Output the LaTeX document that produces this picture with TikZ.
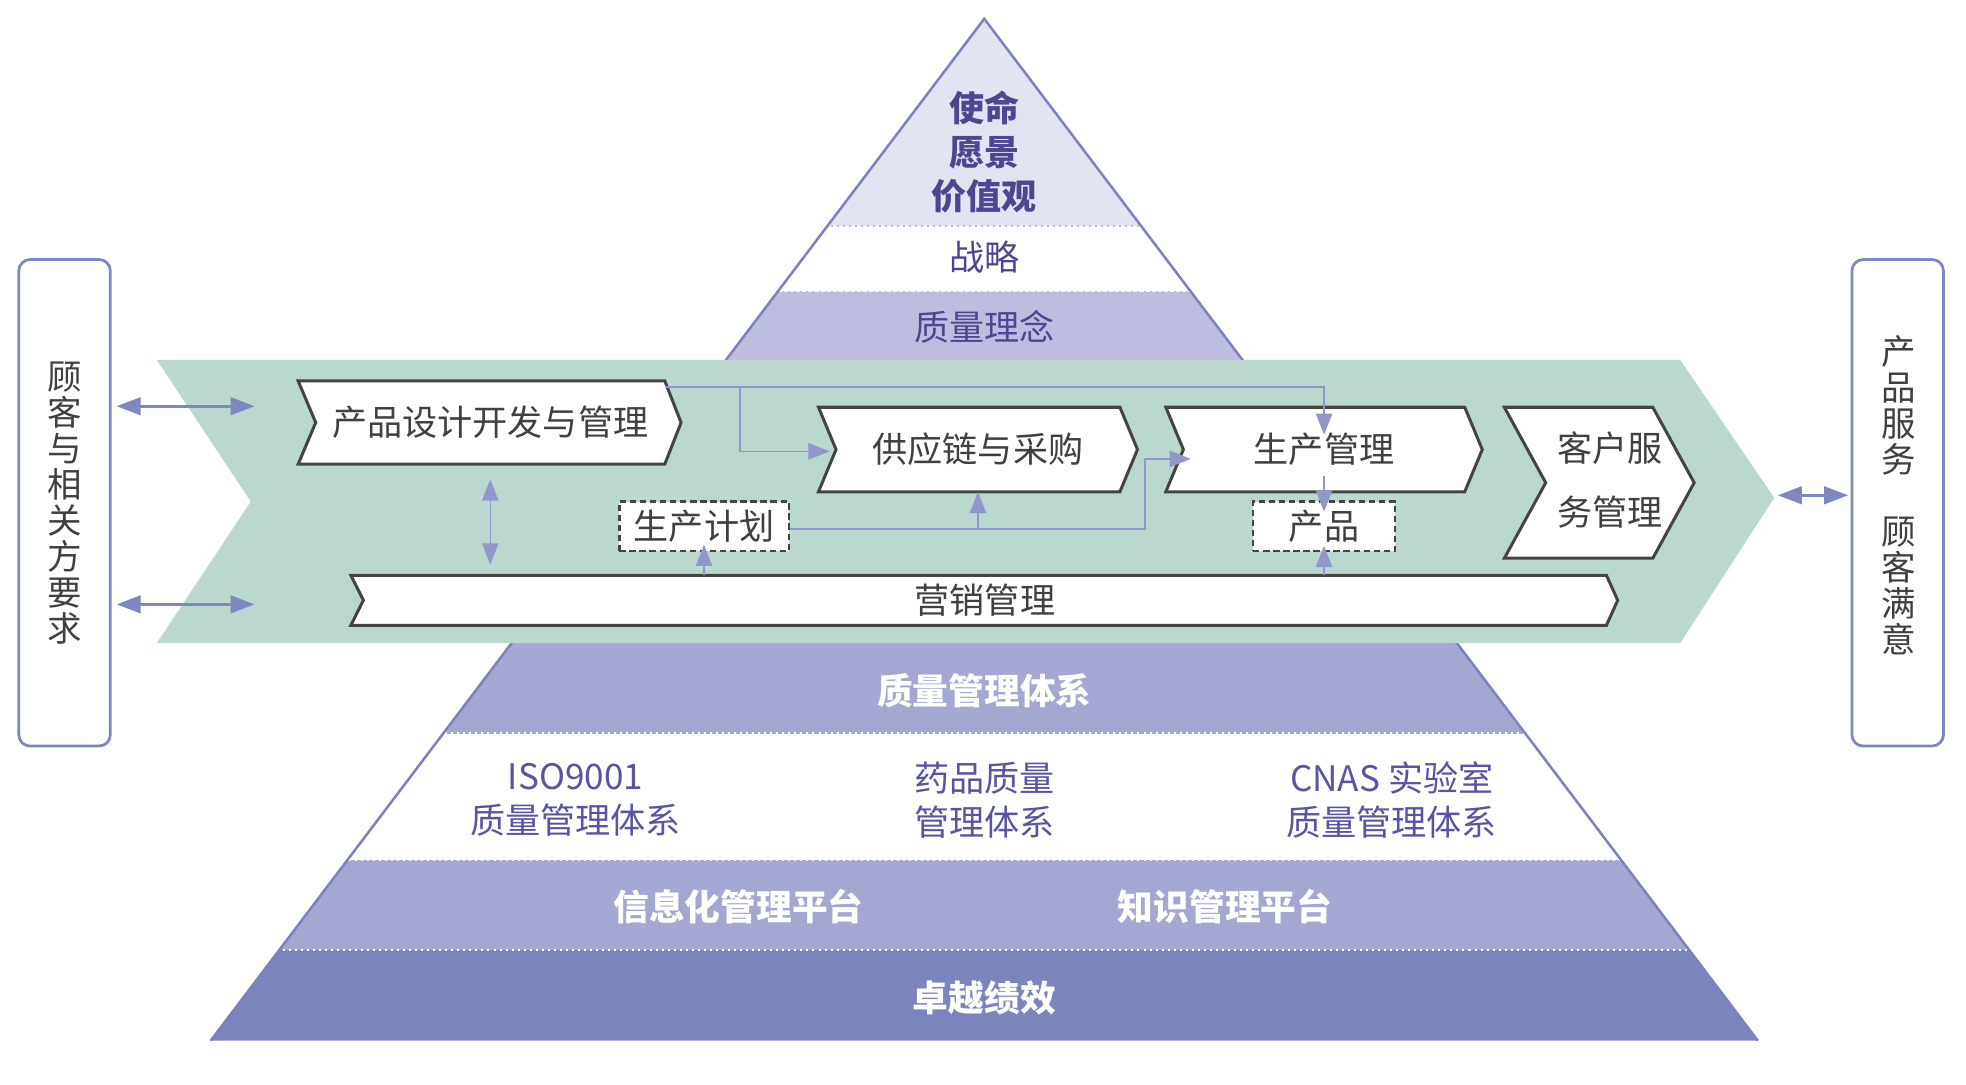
\documentclass[tikz,border=0pt]{standalone}
\usepackage{fontspec}
\newfontfamily\cjk{Noto Sans CJK SC}
\usetikzlibrary{arrows.meta,calc}
\definecolor{tri}{HTML}{7B82BE}
\definecolor{topfill}{HTML}{E3E4F2}
\definecolor{ideafill}{HTML}{BDBEDF}
\definecolor{band}{HTML}{BBD8CF}
\definecolor{midfill}{HTML}{A3A7D2}
\definecolor{darkfill}{HTML}{7C84BD}
\definecolor{ptxt}{HTML}{4C4790}
\definecolor{ptxt2}{HTML}{5854A0}
\definecolor{boxline}{HTML}{444444}
\definecolor{gtxt}{HTML}{404040}
\definecolor{connc}{HTML}{9296CB}
\definecolor{sidec}{HTML}{7F87C1}
\pgfdeclarelayer{back}
\pgfdeclarelayer{shapes}
\pgfsetlayers{back,shapes,main}
\tikzset{
  basetext/.style={font=\cjk\fontsize{28}{35.5}\selectfont, inner sep=0pt, align=center},
  proctext/.style={basetext, text=gtxt},
  procnode/.style={proctext, minimum width=#1},
  dashbox/.style={proctext, draw=boxline, line width=1.8pt, dash pattern=on 5pt off 3pt, fill=white},
  chevline/.style={draw=boxline, fill=white, line width=2.4pt, line join=miter},
  toptext/.style={basetext, text=ptxt, font=\cjk\bfseries\fontsize{28}{35}\selectfont},
  purptext/.style={basetext, text=ptxt},
  midtext/.style={basetext, text=ptxt2},
  whitetext/.style={basetext, text=white, font=\cjk\bfseries\fontsize{28.5}{35}\selectfont},
  sidebox/.style={draw=sidec, line width=2.2pt, rounded corners=9pt, fill=white},
  sidetext/.style={basetext, text=gtxt, font=\cjk\fontsize{27.5}{28.7}\selectfont},
  conn/.style={draw=connc, line width=1.2pt, -{Triangle[length=17pt,width=13pt]}},
  connboth/.style={draw=connc, line width=1.2pt, {Triangle[length=17pt,width=13pt]}-{Triangle[length=17pt,width=13pt]}},
  sidearrow/.style={draw=sidec, line width=2pt, {Triangle[length=19pt,width=14pt]}-{Triangle[length=19pt,width=14pt]}},
  dotline/.style={draw=#1, line width=1.6pt, dash pattern=on 1.6pt off 3.2pt},
}
\newcommand\chevron[3]{%
  \draw[chevline] ($(#1.north west)+(-#2,0)$) -- (#1.north east) -- ($(#1.east)+(#3,0)$)
    -- (#1.south east) -- ($(#1.south west)+(-#2,0)$) -- (#1.west) -- cycle;}
\begin{document}
\begin{tikzpicture}[x=1pt,y=-1pt]
\useasboundingbox (0,0) rectangle (1568,865);

% ---------------- pyramid and band ----------------
\begin{pgfonlayer}{back}
  \fill[white] (0,0) rectangle (1568,865);
  \begin{scope}
    \clip (785,15) -- (168,830) -- (1402,830) -- cycle;
    \fill[topfill] (0,0) rectangle (1568,180);
    \fill[ideafill] (0,233) rectangle (1568,287);
    \fill[midfill] (0,500) rectangle (1568,585);
    \fill[midfill] (0,686) rectangle (1568,758);
    \fill[darkfill] (0,758) rectangle (1568,831);
    \draw[dotline=ideafill] (0,180) -- (1568,180);
    \draw[dotline=ideafill] (0,233) -- (1568,233);
    \draw[dotline=white] (0,585) -- (1568,585);
    \draw[dotline=white] (0,686) -- (1568,686);
    \draw[dotline=white] (0,758) -- (1568,758);
  \end{scope}
  \draw[tri, line width=2pt] (168,830) -- (785,15) -- (1402,830);
  \fill[band] (125,287) -- (1340,287) -- (1415,397) -- (1340,513) -- (125,513) -- (200,400) -- cycle;
\end{pgfonlayer}

% ---------------- pyramid texts ----------------
\node[toptext] (mv) at (785,121) {使命\\愿景\\价值观};
\node[purptext] (st) at (785,205) {战略};
\node[purptext] (qi) at (785,261) {质量理念};
\node[whitetext] (qms) at (785,551) {质量管理体系};
\node[midtext] (iso) at (459,638) {ISO9001\\质量管理体系};
\node[midtext] (drug) at (785,638) {药品质量\\管理体系};
\node[midtext] (cnas) at (1110,638) {CNAS 实验室\\质量管理体系};
\node[whitetext] (info) at (589,723) {信息化管理平台};
\node[whitetext] (know) at (977,723) {知识管理平台};
\node[whitetext] (exc) at (785,796) {卓越绩效};

% ---------------- side boxes ----------------
\node[sidebox, minimum width=73pt, minimum height=388pt] (lb) at (51.5,401) {};
\node[sidetext] (lbt) at (lb.center) {顾\\客\\与\\相\\关\\方\\要\\求};
\node[sidebox, minimum width=73pt, minimum height=388pt] (rb) at (1513.5,401) {};
\node[sidetext] (rbt) at (1514,395) {产\\品\\服\\务\\\mbox{}\\顾\\客\\满\\意};

% ---------------- process nodes ----------------
\node[procnode=278pt, minimum height=66pt] (pd) at (391,337) {产品设计开发与管理};
\node[procnode=226pt, minimum height=67pt] (sc) at (780,358.5) {供应链与采购};
\node[procnode=224pt, minimum height=67pt] (pm) at (1056,358.5) {生产管理};
\node[procnode=85pt, minimum height=120pt] (cs) at (1275.5,385) {};
\node[proctext, font=\cjk\fontsize{28}{51}\selectfont] (cst) at (1284,382.5) {客户服\\务管理};
\node[procnode=991pt, minimum height=39.5pt] (mk) at (785.5,478.75) {营销管理};
\node[dashbox, minimum width=135pt, minimum height=39.5pt] (gp) at (561.5,419.75) {生产计划};
\node[dashbox, minimum width=113pt, minimum height=39.5pt] (pr) at (1056,419.75) {产品};

\begin{pgfonlayer}{shapes}
  \chevron{pd}{14}{13}
  \chevron{sc}{14}{14}
  \chevron{pm}{14}{14}
  \chevron{cs}{33}{33}
  \chevron{mk}{10}{9}
\end{pgfonlayer}

% ---------------- connectors ----------------
\coordinate (j1) at (590,309);
\coordinate (j2) at (913,366);
\coordinate (j3) at ($(sc.south |- gp.east)+(0,2)$);
\draw[conn] ([yshift=-5pt]pd.north east) -| ([yshift=-22pt]pm.north);
\draw[conn] (j1) |- ([xshift=-5pt,yshift=-1.5pt]sc.west);
\draw[conn] ($(gp.east)+(0,2)$) -| (j2) -- ([xshift=6pt,yshift=-7.5pt]pm.west);
\draw[conn] (j3) -- (sc.south);
\draw[conn] (gp.south |- mk.north) -- ([yshift=6pt]gp.south);
\draw[conn] (pr.south |- mk.north) -- ([yshift=5pt]pr.south);
\draw[conn] ([yshift=-21.5pt]pm.center) -- ([yshift=-9pt]pr.north);
\draw[connboth] ([yshift=-12pt]pd.south) -- ($(pd.south |- mk.north)+(0,-8.5)$);

% ---------------- side arrows ----------------
\coordinate (l1) at (203,324);
\coordinate (l2) at (203,482);
\coordinate (r1) at (1418,395);
\draw[sidearrow] ($(lb.east |- l1)+(4,0)$) -- (l1);
\draw[sidearrow] ($(lb.east |- l2)+(4,0)$) -- (l2);
\draw[sidearrow] (r1) -- ($(rb.west |- r1)+(-2,0)$);
\end{tikzpicture}
\end{document}
